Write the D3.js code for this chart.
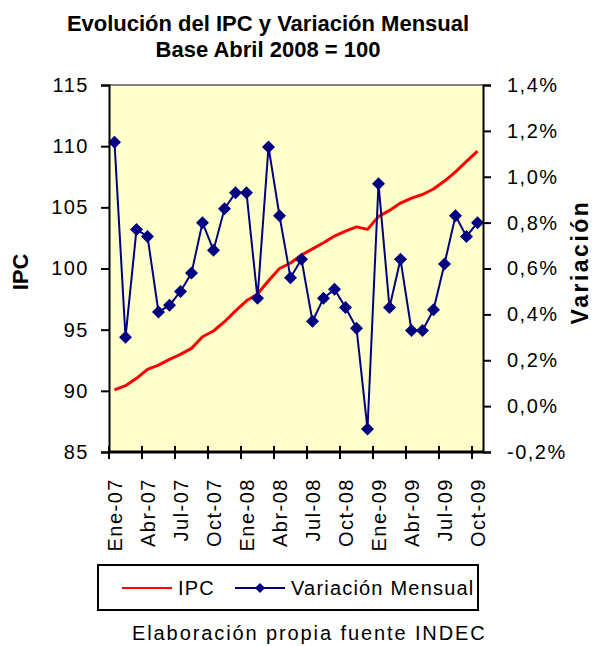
<!DOCTYPE html>
<html>
<head>
<meta charset="utf-8">
<script src="https://cdn.jsdelivr.net/npm/d3@7"></script>
<style>
  body { margin: 0; background: #fff; }
  text { font-family: "Liberation Sans", Arial, sans-serif; fill: #000; }
</style>
</head>
<body>
<div id="chart"></div>
<script>
// months shown on the category axis
const months = ["Ene","Feb","Mar","Abr","May","Jun","Jul","Ago","Sep","Oct","Nov","Dic"];
const categories = [];
["07","08","09"].forEach(yy => months.forEach(m => categories.push(`${m}-${yy}`)));
categories.splice(34); // Ene-07 .. Oct-09

// IPC index, base Abril 2008 = 100
const ipc = [90.07, 90.42, 91.02, 91.76, 92.1, 92.57, 92.98, 93.47, 94.42, 94.89,
             95.65, 96.54, 97.36, 97.91, 99.0, 100.0, 100.45, 101.1, 101.6, 102.1,
             102.65, 103.05, 103.4, 103.2, 104.25, 104.75, 105.35, 105.75, 106.05, 106.5,
             107.15, 107.9, 108.75, 109.6];

// monthly variation, %
const variacion = [1.15, 0.30, 0.77, 0.74, 0.41, 0.44, 0.50, 0.58, 0.80, 0.68,
                   0.86, 0.93, 0.93, 0.47, 1.13, 0.83, 0.56, 0.64, 0.37, 0.47,
                   0.51, 0.43, 0.34, -0.10, 0.97, 0.43, 0.64, 0.33, 0.33, 0.42,
                   0.62, 0.83, 0.74, 0.80];

const ipcTicks = [85, 90, 95, 100, 105, 110, 115];
const varTicks = [-0.2, 0, 0.2, 0.4, 0.6, 0.8, 1.0, 1.2, 1.4];

const width = 593, height = 646;
const plot = { left: 109, right: 483, top: 85, bottom: 452 };

const svg = d3.select("#chart").append("svg")
    .attr("width", width)
    .attr("height", height);

const x = d3.scaleBand()
    .domain(categories)
    .range([plot.left, plot.right])
    .padding(0);

const yL = d3.scaleLinear().domain([85, 115]).range([plot.bottom, plot.top]);
const yR = d3.scaleLinear().domain([-0.2, 1.4]).range([plot.bottom, plot.top]);

// spanish decimal comma, plain hyphen for negatives
const es = d3.formatLocale({ decimal: ",", thousands: ".", grouping: [3], currency: ["$", ""], minus: "-" });
const pct = v => es.format(".1f")(v) + "%";

// plot area
svg.append("rect")
    .attr("x", plot.left).attr("y", plot.top)
    .attr("width", plot.right - plot.left)
    .attr("height", plot.bottom - plot.top)
    .attr("fill", "#ffffcc");
svg.append("line")
    .attr("x1", plot.left).attr("x2", plot.right)
    .attr("y1", plot.top).attr("y2", plot.top)
    .attr("stroke", "#808080").attr("stroke-width", 2);

// series
const cx = d => x(d) + x.bandwidth() / 2;

svg.append("path")
    .datum(ipc)
    .attr("fill", "none")
    .attr("stroke", "#ff0000")
    .attr("stroke-width", 3)
    .attr("stroke-linejoin", "round")
    .attr("d", d3.line().x((d, i) => cx(categories[i])).y(d => yL(d)));

svg.append("path")
    .datum(variacion)
    .attr("fill", "none")
    .attr("stroke", "#000080")
    .attr("stroke-width", 2)
    .attr("d", d3.line().x((d, i) => cx(categories[i])).y(d => yR(d)));

const diamond = "M0,-6.5L6.5,0L0,6.5L-6.5,0Z";
svg.append("g").selectAll("path")
    .data(variacion)
    .join("path")
    .attr("d", diamond)
    .attr("fill", "#000080")
    .attr("transform", (d, i) => `translate(${cx(categories[i])},${yR(d)})`);

// left axis
const axL = svg.append("g")
    .attr("transform", `translate(${plot.left},0)`)
    .call(d3.axisLeft(yL).tickValues(ipcTicks).tickSize(8).tickPadding(12));
// right axis
const axR = svg.append("g")
    .attr("transform", `translate(${plot.right},0)`)
    .call(d3.axisRight(yR).tickValues(varTicks).tickFormat(pct).tickSize(8).tickPadding(16));

[axL, axR].forEach(ax => {
  ax.select(".domain").attr("stroke", "#000").attr("stroke-width", 2);
  ax.selectAll(".tick line").attr("stroke", "#000").attr("stroke-width", 2);
  ax.selectAll(".tick text")
      .style("font-size", "20px")
      .style("letter-spacing", "1.5px")
      .attr("fill", "#000");
});

// bottom axis: ticks between categories every 3 months
const every3 = categories.filter((c, i) => i % 3 === 0);
const axB = svg.append("g");
axB.append("line")
    .attr("x1", plot.left).attr("x2", plot.right)
    .attr("y1", plot.bottom).attr("y2", plot.bottom)
    .attr("stroke", "#000").attr("stroke-width", 3);
axB.selectAll("line.tk")
    .data(every3)
    .join("line")
    .attr("class", "tk")
    .attr("x1", d => x(d)).attr("x2", d => x(d))
    .attr("y1", plot.bottom - 6).attr("y2", plot.bottom + 7)
    .attr("stroke", "#000").attr("stroke-width", 2);
axB.selectAll("text")
    .data(every3)
    .join("text")
    .attr("transform", d => `translate(${cx(d) + 7},${plot.bottom + 26}) rotate(-90)`)
    .attr("text-anchor", "end")
    .style("font-size", "20px")
    .style("letter-spacing", "1.5px")
    .text(d => d);

// titles
const title = svg.append("text")
    .attr("x", 268)
    .attr("text-anchor", "middle")
    .style("font-size", "22px")
    .style("font-weight", "bold");
title.append("tspan").attr("x", 268).attr("y", 31).text("Evolución del IPC y Variación Mensual");
title.append("tspan").attr("x", 268).attr("y", 57).text("Base Abril 2008 = 100");

svg.append("text")
    .attr("transform", `translate(28,272) rotate(-90)`)
    .attr("text-anchor", "middle")
    .style("font-size", "22px")
    .style("font-weight", "bold")
    .text("IPC");

svg.append("text")
    .attr("transform", `translate(588,262) rotate(-90)`)
    .attr("text-anchor", "middle")
    .style("font-size", "23px")
    .style("font-weight", "bold")
    .style("letter-spacing", "2.5px")
    .text("Variación");

// legend
const lg = svg.append("g").attr("transform", "translate(98,565)");
lg.append("rect")
    .attr("width", 380).attr("height", 45)
    .attr("fill", "#fff").attr("stroke", "#000").attr("stroke-width", 2);
lg.append("line")
    .attr("x1", 24).attr("x2", 74).attr("y1", 23).attr("y2", 23)
    .attr("stroke", "#ff0000").attr("stroke-width", 2);
lg.append("text")
    .attr("x", 80).attr("y", 30)
    .style("font-size", "20px").style("letter-spacing", "1.2px")
    .text("IPC");
lg.append("line")
    .attr("x1", 137).attr("x2", 187).attr("y1", 23).attr("y2", 23)
    .attr("stroke", "#000080").attr("stroke-width", 2);
lg.append("path")
    .attr("d", "M0,-5L5,0L0,5L-5,0Z")
    .attr("fill", "#000080")
    .attr("transform", "translate(162,23)");
lg.append("text")
    .attr("x", 193).attr("y", 30)
    .style("font-size", "20px").style("letter-spacing", "1.2px")
    .text("Variación Mensual");

// source note
svg.append("text")
    .attr("x", 132).attr("y", 640)
    .style("font-size", "20px").style("letter-spacing", "1.9px")
    .text("Elaboración propia fuente INDEC");
</script>
</body>
</html>
